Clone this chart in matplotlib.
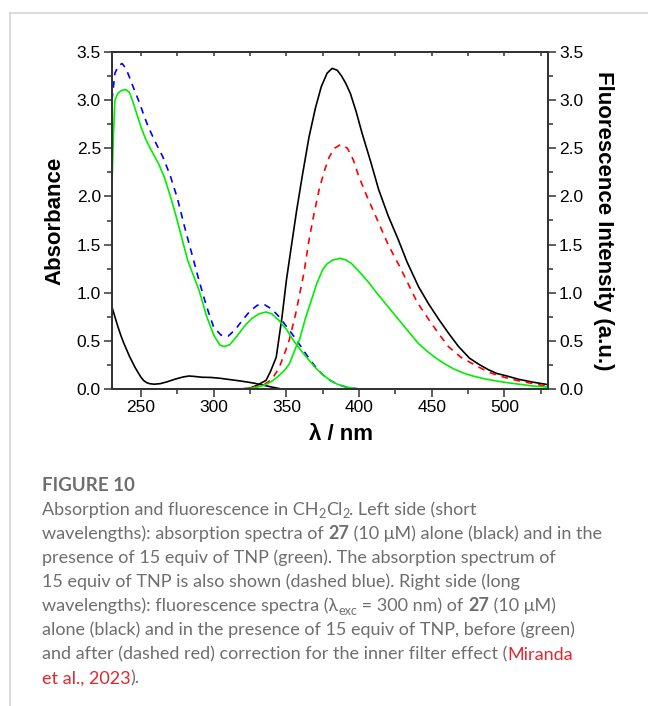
import matplotlib
matplotlib.use("Agg")
import matplotlib.pyplot as plt
from matplotlib.lines import Line2D
from matplotlib.ticker import MultipleLocator

# ---------------- data ----------------
abs27_x = [230, 232, 234, 236, 238, 240, 242, 244, 246, 248, 250, 252, 254, 256, 259, 263, 268, 274,
           279, 283, 287, 292, 298, 304, 310, 316, 322, 328, 334, 340, 345]
abs27_y = [0.85, 0.75, 0.65, 0.56, 0.48, 0.41, 0.34, 0.28, 0.22, 0.17, 0.12, 0.085, 0.065, 0.055, 0.05,
           0.055, 0.075, 0.105, 0.125, 0.135, 0.13, 0.122, 0.12, 0.112, 0.10, 0.088, 0.075, 0.06, 0.04,
           0.02, 0.005]

absTNP_x = [230, 232, 234.5, 237, 239.5, 242, 245, 249, 252, 255, 260, 265, 270, 275, 280, 285, 290,
            295, 300, 305, 310, 315, 320, 325, 330, 335, 340, 345, 350, 355, 360, 365, 370, 375, 380,
            385, 390, 395, 400]
absTNP_y = [3.0, 3.28, 3.36, 3.38, 3.33, 3.24, 3.12, 2.97, 2.84, 2.72, 2.56, 2.41, 2.22, 1.98, 1.68,
            1.40, 1.12, 0.86, 0.64, 0.56, 0.55, 0.62, 0.72, 0.81, 0.87, 0.875, 0.83, 0.75, 0.65, 0.55,
            0.44, 0.33, 0.23, 0.15, 0.09, 0.05, 0.025, 0.01, 0.0]

absMix_x = [230, 231, 232, 234, 236.5, 239.5, 242, 244, 247, 250, 253, 257, 262, 266, 270, 274, 278,
            282, 286, 290, 295, 300, 304, 307, 311, 316, 321, 326, 331, 336, 340, 345, 350, 355, 360,
            365, 370, 375, 380, 385, 390, 395, 400]
absMix_y = [2.12, 2.65, 3.0, 3.07, 3.10, 3.11, 3.08, 3.0, 2.86, 2.72, 2.60, 2.48, 2.34, 2.20, 2.01,
            1.80, 1.57, 1.34, 1.18, 1.02, 0.76, 0.56, 0.46, 0.44, 0.46, 0.55, 0.65, 0.73, 0.78, 0.80,
            0.78, 0.71, 0.62, 0.50, 0.40, 0.31, 0.22, 0.15, 0.09, 0.05, 0.025, 0.01, 0.0]

fl27_x = [320, 325, 330, 336, 339, 343, 347, 350, 353, 357, 361, 365.6, 370, 374, 378, 381.5, 385,
          388, 391, 394, 398, 402, 408, 413.5, 420, 427, 433, 441, 448, 455, 462, 468.5, 476, 482,
          489, 495, 500.5, 510, 520, 528, 530]
fl27_y = [0.0, 0.01, 0.04, 0.09, 0.18, 0.33, 0.75, 1.13, 1.44, 1.85, 2.22, 2.62, 2.92, 3.14, 3.28,
          3.33, 3.31, 3.25, 3.17, 3.07, 2.88, 2.66, 2.36, 2.07, 1.80, 1.55, 1.32, 1.06, 0.88, 0.72,
          0.57, 0.44, 0.32, 0.26, 0.20, 0.16, 0.14, 0.10, 0.07, 0.05, 0.045]

flCorr_x = [318, 325, 330, 335, 340, 345, 349, 352, 356.5, 362, 365.6, 369, 372.5, 376, 379.5, 383,
            387.5, 392, 396, 400, 406, 411.6, 420, 429, 440, 448, 455, 461.5, 470, 482, 490, 496,
            505, 515, 525, 530]
flCorr_y = [0.0, 0.01, 0.03, 0.05, 0.10, 0.22, 0.38, 0.51, 0.79, 1.20, 1.55, 1.82, 2.07, 2.26, 2.41,
            2.50, 2.54, 2.50, 2.38, 2.20, 1.98, 1.79, 1.50, 1.24, 0.90, 0.72, 0.57, 0.44, 0.33, 0.23,
            0.17, 0.14, 0.10, 0.07, 0.04, 0.03]

flMix_x = [322, 330, 335, 340, 345, 349, 352, 357, 359, 363, 368, 371, 375, 378, 382, 387, 391, 395,
           400, 407, 412, 418, 424, 430, 436, 441, 447, 453, 459, 465, 471, 477, 485, 492, 500, 510,
           520, 530]
flMix_y = [0.0, 0.02, 0.04, 0.08, 0.14, 0.20, 0.26, 0.45, 0.51, 0.73, 0.96, 1.10, 1.24, 1.30, 1.34,
           1.357, 1.34, 1.30, 1.22, 1.10, 1.0, 0.89, 0.78, 0.67, 0.56, 0.47, 0.39, 0.32, 0.26, 0.21,
           0.17, 0.14, 0.11, 0.09, 0.07, 0.05, 0.03, 0.02]

x_ticks = [250, 300, 350, 400, 450, 500]
y_ticks = [0.0, 0.5, 1.0, 1.5, 2.0, 2.5, 3.0, 3.5]

caption_title = "FIGURE 10"
caption_lines = [
    [("Absorption and fluorescence in CH", "n"), ("2", "sub"), ("Cl", "n"), ("2", "sub"),
     (". Left side (short", "n")],
    [("wavelengths): absorption spectra of ", "n"), ("27", "b"),
     (" (10 μM) alone (black) and in the", "n")],
    [("presence of 15 equiv of TNP (green). The absorption spectrum of", "n")],
    [("15 equiv of TNP is also shown (dashed blue). Right side (long", "n")],
    [("wavelengths): fluorescence spectra (λ", "n"), ("exc", "sub"), (" = 300 nm) of ", "n"),
     ("27", "b"), (" (10 μM)", "n")],
    [("alone (black) and in the presence of 15 equiv of TNP, before (green)", "n")],
    [("and after (dashed red) correction for the inner filter effect (", "n"), ("Miranda", "r")],
    [("et al., 2023", "r"), (").", "n")],
]

# ---------------- figure ----------------
W, H = 648, 706
fig = plt.figure(figsize=(W / 100, H / 100), dpi=100)
plt.rcParams['font.family'] = ['Liberation Sans', 'DejaVu Sans']

# frame lines of the page
fig.add_artist(Line2D([10 / W, 1.0], [1 - 13 / H, 1 - 13 / H], color='#d4d4d4', lw=1.2))
fig.add_artist(Line2D([10 / W, 10 / W], [1 - 13 / H, 0.0], color='#d4d4d4', lw=1.2))

ax = fig.add_axes([112 / W, 1 - 389 / H, (548 - 112) / W, (389 - 52) / H])
spine_c = '#333333'

ax.plot(abs27_x, abs27_y, color='black', lw=1.2)
ax.plot(fl27_x, fl27_y, color='black', lw=1.2)
ax.plot(absTNP_x, absTNP_y, color='#0000ff', lw=1.2, ls=(0, (4, 3.5)))
ax.plot(flCorr_x, flCorr_y, color='#ff0000', lw=1.2, ls=(0, (4, 3.5)))
ax.plot(absMix_x, absMix_y, color='#00ee00', lw=1.2)
ax.plot(flMix_x, flMix_y, color='#00ee00', lw=1.2)

ax.set_xlim(230, 530)
ax.set_ylim(0, 3.5)
ax.set_xticks(x_ticks)
ax.set_yticks(y_ticks)
ax.set_yticklabels([f"{v:.1f}" for v in y_ticks])
ax.xaxis.set_minor_locator(MultipleLocator(25))
ax.yaxis.set_minor_locator(MultipleLocator(0.25))
for s in ax.spines.values():
    s.set_color(spine_c)
    s.set_linewidth(1.3)
ax.tick_params(which='both', direction='out', color=spine_c, width=1.1, labelsize=12.5,
               labelcolor='black')
ax.tick_params(which='major', length=6, pad=2)
ax.tick_params(which='minor', length=3.5)

ax.set_xlabel("λ / nm", fontsize=16, fontweight='bold')
ax.xaxis.set_label_coords((341 - 112) / (548 - 112), -0.105)
ax.set_ylabel("Absorbance", fontsize=16, fontweight='bold', labelpad=8)

# top ticks (inward)
top = ax.secondary_xaxis('top')
top.set_xticks([x for x in range(250, 530, 25)])
top.tick_params(direction='in', length=3, width=1.1, color=spine_c, labeltop=False)
top.spines['top'].set_visible(False)

# right axis
ax2 = ax.twinx()
ax2.set_ylim(0, 3.5)
ax2.set_yticks(y_ticks)
ax2.set_yticklabels([f"{v:.1f}" for v in y_ticks])
ax2.yaxis.set_minor_locator(MultipleLocator(0.25))
for s in ax2.spines.values():
    s.set_color(spine_c)
    s.set_linewidth(1.3)
ax2.tick_params(which='both', direction='out', color=spine_c, width=1.1, labelsize=12.5)
ax2.tick_params(which='major', length=6, pad=2)
ax2.tick_params(which='minor', length=3.5)
ax2.set_ylabel("Fluorescence Intensity (a.u.)", fontsize=16, fontweight='bold',
               rotation=-90, labelpad=22)

# ---------------- caption ----------------
cap_font = ['Lato', 'DejaVu Sans']
cap_gray = '#6e6e6e'
cap_red = '#e2272e'
cap_size = 13.0
renderer = fig.canvas.get_renderer()


def seg_props(kind):
    p = dict(family=cap_font, fontsize=cap_size, color=cap_gray)
    if kind == 'sub':
        p['fontsize'] = cap_size * 0.7
    elif kind == 'b':
        p['fontweight'] = 'bold'
    elif kind == 'r':
        p['color'] = cap_red
    return p


def text_width(s, props):
    t1 = fig.text(0, 0, 'x' + s + 'x', **props)
    t2 = fig.text(0, 0, 'xx', **props)
    w = t1.get_window_extent(renderer).width - t2.get_window_extent(renderer).width
    t1.remove()
    t2.remove()
    return w


x0 = 42
fig.text(x0 / W, 1 - 491 / H, caption_title, family=cap_font, fontsize=13.5, fontweight='bold',
         color=cap_gray, va='baseline')
base = 515
step = 24.1
for i, line in enumerate(caption_lines):
    yb = base + i * step
    x = x0
    for s, kind in line:
        p = seg_props(kind)
        dy = 3.5 if kind == 'sub' else 0
        fig.text(x / W, 1 - (yb + dy) / H, s, va='baseline', **p)
        x += text_width(s, p)

fig.savefig("out.png", dpi=100)
